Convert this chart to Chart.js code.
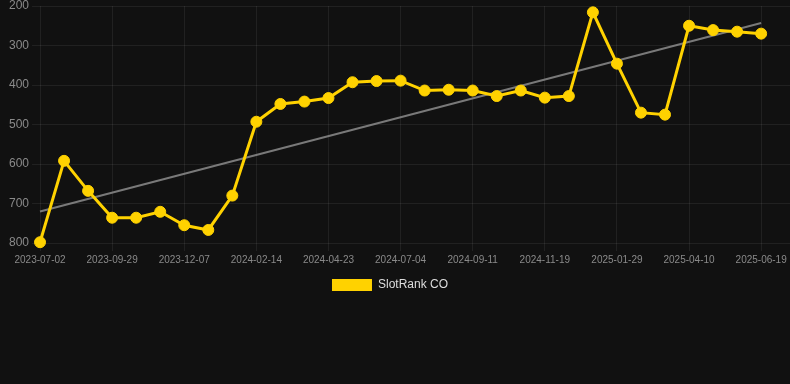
<!DOCTYPE html>
<html>
<head>
<meta charset="utf-8">
<script src="https://cdn.jsdelivr.net/npm/chart.js@4"></script>
<style>
  html, body { margin: 0; padding: 0; background: #111111; overflow: hidden; }
  #wrap { position: relative; width: 790px; height: 301px; }
</style>
</head>
<body>
<div id="wrap"><canvas id="c"></canvas></div>
<script>
const categories = [
  "2023-07-02","2023-07-31","2023-08-30","2023-09-29","2023-10-22","2023-11-14",
  "2023-12-07","2024-01-01","2024-01-24","2024-02-14","2024-03-10","2024-04-01",
  "2024-04-23","2024-05-17","2024-06-10","2024-07-04","2024-07-27","2024-08-19",
  "2024-09-11","2024-10-04","2024-10-27","2024-11-19","2024-12-13","2025-01-06",
  "2025-01-29","2025-02-21","2025-03-17","2025-04-10","2025-05-03","2025-05-27",
  "2025-06-19"
];
const rankValues = [
  798, 592, 668, 736, 736, 721, 755, 767, 680, 493, 448, 442, 433, 393, 390, 389,
  414, 412, 414, 428, 414, 432, 428, 216, 346, 470, 475, 250, 261, 265, 270
];
const yTicks = [200, 300, 400, 500, 600, 700, 800];
const seriesName = "SlotRank CO";

// least-squares trend line derived from the series
const n = rankValues.length;
const mx = (n - 1) / 2;
const my = rankValues.reduce((a, b) => a + b, 0) / n;
let sxy = 0, sxx = 0;
rankValues.forEach((v, i) => { sxy += (i - mx) * (v - my); sxx += (i - mx) * (i - mx); });
const slope = sxy / sxx;
const trendStart = my - slope * mx;
const trendEnd = my + slope * (n - 1 - mx);

const yellow = "#FFD200";

const legendShift = {
  id: "legendShift",
  afterLayout(chart) {
    const l = chart.legend;
    if (l) { l.left -= 8; l.right -= 8; }
  }
};

new Chart(document.getElementById("c"), {
  type: "line",
  plugins: [legendShift],
  data: {
    datasets: [
      {
        label: seriesName,
        data: rankValues.map((v, i) => ({ x: i, y: v })),
        borderColor: yellow,
        backgroundColor: yellow,
        borderWidth: 3,
        pointRadius: 5.5,
        pointBorderWidth: 1,
        pointBackgroundColor: yellow,
        pointBorderColor: yellow,
        tension: 0,
        clip: false
      },
      {
        label: "trend",
        data: [{ x: 0, y: trendStart }, { x: n - 1, y: trendEnd }],
        borderColor: "rgba(140,140,140,0.85)",
        borderWidth: 2,
        pointRadius: 0,
        fill: false,
        clip: false
      }
    ]
  },
  options: {
    responsive: true,
    maintainAspectRatio: false,
    animation: false,
    layout: { autoPadding: false, padding: { left: 6, right: 0, top: 0, bottom: 0 } },
    plugins: {
      legend: {
        position: "bottom",
        labels: {
          color: "#dddddd",
          font: { size: 12 },
          boxWidth: 40,
          boxHeight: 12,
          generateLabels: (chart) => {
            const items = Chart.defaults.plugins.legend.labels.generateLabels(chart);
            return items
              .filter(it => it.text === seriesName)
              .map(it => Object.assign(it, { lineWidth: 0, fillStyle: yellow, strokeStyle: yellow }));
          }
        }
      },
      tooltip: { enabled: false }
    },
    scales: {
      x: {
        type: "linear",
        min: 0,
        max: 31.2,
        grid: { color: "rgba(255,255,255,0.07)" },
        border: { display: false },
        afterBuildTicks: (axis) => {
          axis.ticks = categories.map((c, i) => ({ value: i })).filter(t => t.value % 3 === 0);
        },
        afterFit: (axis) => { axis.paddingLeft = 0; axis.paddingRight = 0; },
        ticks: {
          color: "#8a8a8a",
          font: { size: 10 },
          maxRotation: 0,
          autoSkip: false,
          callback: (value) => categories[value] ?? ""
        }
      },
      y: {
        reverse: true,
        min: yTicks[0],
        max: yTicks[yTicks.length - 1],
        grid: { color: "rgba(255,255,255,0.07)" },
        border: { display: false },
        afterBuildTicks: (axis) => { axis.ticks = yTicks.map(v => ({ value: v })); },
        afterFit: (axis) => { axis.paddingTop = 6; },
        ticks: {
          color: "#8a8a8a",
          font: { size: 12 }
        }
      }
    }
  }
});
</script>
</body>
</html>
